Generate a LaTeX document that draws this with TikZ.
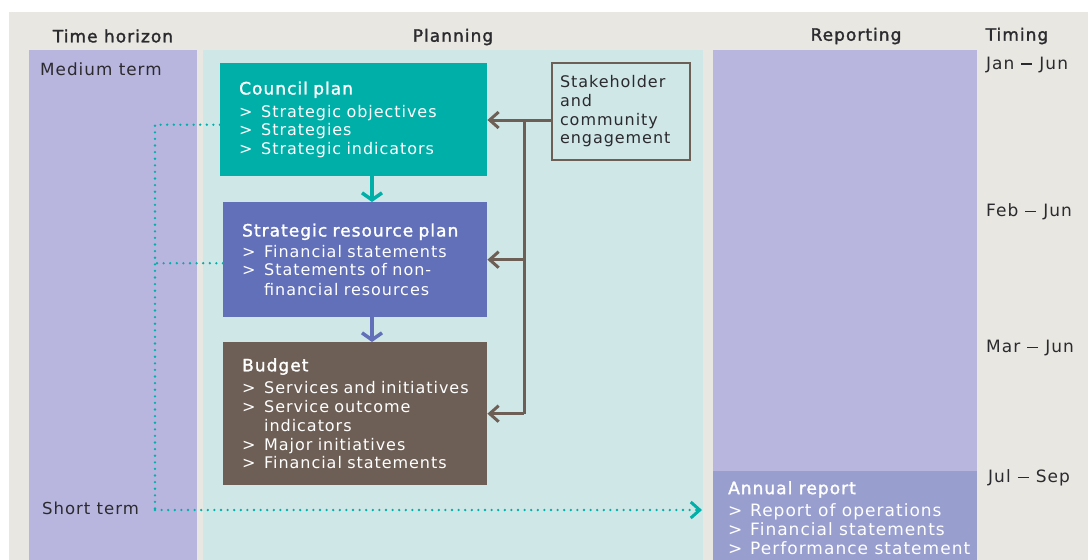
\documentclass[tikz,border=0pt]{standalone}
\usepackage{fontspec}
\setmainfont{DejaVu Sans}[LetterSpace=6]
\newfontfamily\semibold{DejaVu Sans}[LetterSpace=6,FakeBold=1.6]
\usetikzlibrary{arrows.meta,positioning}

\definecolor{bggray}{HTML}{E8E7E1}
\definecolor{lav}{HTML}{B8B6DF}
\definecolor{planbg}{HTML}{D0E7E8}
\definecolor{councilteal}{HTML}{00AFA8}
\definecolor{srpblue}{HTML}{6170B8}
\definecolor{budbrown}{HTML}{6E5F56}
\definecolor{annualblue}{HTML}{989FCE}
\definecolor{ink}{HTML}{2B2A2E}

\newcommand{\itm}{\makebox[22pt][l]{>}}
\newcommand{\cont}{\hspace*{22pt}}
\newcommand{\boxtitle}[1]{{\semibold\fontsize{17}{19}\selectfont #1}}
\newcommand{\todash}{\hspace{7pt}\rule[4.8pt]{11pt}{1.2pt}\hspace{7pt}}

\begin{document}
\begin{tikzpicture}[x=1pt,y=-1pt,
    head/.style={font=\semibold\fontsize{17}{19}\selectfont,text=ink},
    label/.style={font=\fontsize{16.8}{18}\selectfont,text=ink,anchor=west,inner sep=0pt},
    month/.style={label,font=\fontsize{17}{18}\selectfont},
    plan box/.style={anchor=north west,align=left,inner xsep=19pt,text=white,
        font=\fontsize{16}{18.7}\selectfont},
    flow/.style={line width=3.5pt,-{Straight Barb[length=7pt,width=20pt]}},
    feed/.style={line width=3pt,draw=budbrown,-{Straight Barb[length=9pt,width=16pt]}},
    dots/.style={draw=councilteal,line width=2.6pt,line cap=round,dash pattern=on 0pt off 6.6pt}]
  \useasboundingbox (0,0) rectangle (1088,560);
  \fill[bggray] (9,12) rectangle (1088,560);
  % columns
  \fill[lav] (29,50) rectangle (197,560);
  \fill[planbg] (203,50) rectangle (703,560);
  \fill[lav] (713,50) rectangle (977,471);
  \fill[annualblue] (713,471) rectangle (977,560);
  % headers
  \node[head] (horizon) at (113,36) {Time horizon};
  \node[head] (planning) at (453,37) {Planning};
  \node[head] (reporting) at (856,36) {Reporting};
  \node[head] (timing) at (1017,36) {Timing};
  \node[label] (medium) at (40,69) {Medium term};
  \node[label,font=\fontsize{16.5}{18}\selectfont] (short) at (42,508) {Short term};
  \node[month] (jan) at (986,65) {Jan\todash Jun};
  \node[month] (feb) at (986,212) {Feb\todash Jun};
  \node[month] (mar) at (986,348) {Mar\todash Jun};
  \node[month] (jul) at (988,478) {Jul\todash Sep};
  % planning boxes
  \node[plan box,fill=councilteal,text width=229pt,minimum height=113pt] (council) at (220,63)
    {\boxtitle{Council plan}\\[4pt]
     \itm Strategic objectives\\
     \itm Strategies\\
     \itm Strategic indicators};
  \node[plan box,fill=srpblue,text width=226pt,minimum height=115pt] (srp) at (223,202)
    {\boxtitle{Strategic resource plan}\\[2pt]
     \itm Financial statements\\
     \itm Statements of non-\\[1pt]
     \cont financial resources};
  \node[plan box,fill=budbrown,text width=226pt,minimum height=143pt] (budget) at (223,342)
    {\boxtitle{Budget}\\[4pt]
     \itm Services and initiatives\\
     \itm Service outcome\\
     \cont indicators\\
     \itm Major initiatives\\
     \itm Financial statements};
  \node[anchor=north west,draw=budbrown,line width=2pt,fill=planbg,text=ink,align=left,
        inner xsep=8pt,text width=122pt,minimum height=97pt,
        font=\fontsize{16}{18.7}\selectfont] (stake) at (551,62)
    {Stakeholder\\and\\community\\engagement};
  \node[anchor=north west,inner sep=0pt,align=left,text=white,
        font=\fontsize{17}{18.7}\selectfont] (annual) at (728,481)
    {\boxtitle{Annual report}\\[4pt]
     \itm Report of operations\\
     \itm Financial statements\\
     \itm Performance statement};
  % connectors
  \draw[flow,draw=councilteal] (council.south -| 372,0) -- (srp.north -| 372,0);
  \draw[flow,draw=srpblue] (srp.south -| 372,0) -- (budget.north -| 372,0);
  \coordinate (hub) at (524,120);
  \draw[line width=3pt,draw=budbrown] (stake.west |- hub) -- (hub) -- (hub |- budget.east);
  \draw[feed] (hub) -- (council.east |- hub);
  \draw[feed] (hub |- srp.east) -- (srp.east);
  \draw[feed] (hub |- budget.east) -- (budget.east);
  \coordinate (bend) at (155,510);
  \draw[dots] ([yshift=-5pt]council.west) -| (bend);
  \draw[dots] ([yshift=-3.5pt]srp.west) -- ([yshift=-3.5pt]srp.west -| bend);
  \draw[dots] (bend) -- ([xshift=-27pt]annual.west |- bend);
  \draw[line width=3pt,draw=councilteal,-{Straight Barb[length=9pt,width=16pt]}]
    ([xshift=-31pt]annual.west |- bend) -- ([xshift=-26pt]annual.west |- bend);
\end{tikzpicture}
\end{document}
